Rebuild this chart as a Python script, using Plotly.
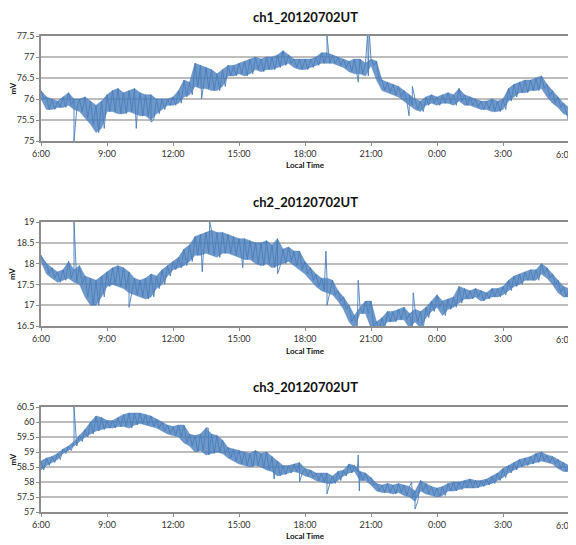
import plotly.graph_objects as go

# time slots: every 15 min from 6:00 to 6:00 next day (hours on a running clock)
start_hour = 6.0
step_hours = 0.25
tick_vals = [6, 9, 12, 15, 18, 21, 24, 27, 30]
tick_labels = ["6:00", "9:00", "12:00", "15:00", "18:00", "21:00", "0:00", "3:00", "6:00"]

titles = ["ch1_20120702UT", "ch2_20120702UT", "ch3_20120702UT"]

# upper / lower envelope of the noise band in each 15-minute slot (mV)
ch1_hi = [76.2, 76.05, 76.0, 75.95, 76.05, 76.15, 76.0, 76.0, 76.05, 75.95, 75.85, 75.95,
          76.1, 76.2, 76.25, 76.15, 76.2, 76.25, 76.15, 76.1, 76.1, 76.0, 76.0, 76.0,
          76.05, 76.2, 76.45, 76.4, 76.85, 76.8, 76.75, 76.7, 76.6, 76.7, 76.8, 76.8,
          76.85, 76.9, 76.95, 77.0, 76.95, 77.0, 77.0, 77.05, 77.15, 77.05, 76.95, 76.95,
          76.95, 76.95, 77.0, 77.1, 77.1, 77.05, 77.0, 76.95, 76.9, 76.95, 76.95, 76.85,
          76.95, 76.9, 76.45, 76.4, 76.35, 76.3, 76.2, 76.1, 76.0, 75.95, 76.05, 76.1,
          76.05, 76.1, 76.15, 76.1, 76.25, 76.1, 76.05, 76.0, 75.95, 75.95, 76.0, 75.95,
          76.0, 76.25, 76.35, 76.4, 76.45, 76.45, 76.5, 76.55, 76.35, 76.2, 76.05, 75.9,
          75.8]
ch1_lo = [76.0, 75.75, 75.75, 75.8, 75.8, 75.85, 75.75, 75.7, 75.55, 75.4, 75.2, 75.3,
          75.7, 75.7, 75.65, 75.65, 75.7, 75.65, 75.6, 75.6, 75.5, 75.65, 75.75, 75.85,
          75.85, 75.9, 76.05, 76.1, 76.3, 76.25, 76.25, 76.2, 76.2, 76.3, 76.55, 76.55,
          76.6, 76.55, 76.6, 76.7, 76.65, 76.7, 76.7, 76.75, 76.8, 76.85, 76.75, 76.7,
          76.7, 76.75, 76.8, 76.85, 76.85, 76.85, 76.8, 76.75, 76.65, 76.6, 76.6, 76.55,
          76.8, 76.45, 76.2, 76.15, 76.1, 76.05, 75.95, 75.85, 75.75, 75.7, 75.85, 75.9,
          75.85, 75.9, 75.9, 75.85, 75.95, 75.85, 75.85, 75.8, 75.75, 75.75, 75.7, 75.7,
          75.75, 75.95, 76.05, 76.15, 76.15, 76.2, 76.2, 76.25, 76.05, 75.9, 75.8, 75.65,
          75.6]
ch1_spike_t = [7.5, 10.33, 11.0, 13.3, 19.0, 20.42, 20.85, 20.92, 22.73, 22.88, 29.97]
ch1_spike_v = [75.0, 75.3, 75.45, 76.0, 77.5, 76.4, 77.6, 77.6, 75.6, 76.3, 75.5]

ch2_hi = [18.2, 18.0, 17.9, 17.8, 17.85, 18.05, 17.85, 17.95, 17.7, 17.65, 17.6, 17.7,
          17.8, 17.9, 17.95, 17.9, 17.8, 17.65, 17.6, 17.65, 17.75, 17.7, 17.85, 17.95,
          18.05, 18.15, 18.35, 18.45, 18.65, 18.7, 18.75, 18.8, 18.75, 18.75, 18.7, 18.65,
          18.6, 18.6, 18.55, 18.5, 18.5, 18.55, 18.45, 18.6, 18.35, 18.4, 18.3, 18.3,
          18.05, 17.9, 17.75, 17.65, 17.65, 17.6, 17.35, 17.2, 17.0, 16.75, 16.95, 17.1,
          17.1, 16.6, 16.7, 16.85, 16.85, 16.9, 16.95, 16.8, 16.9, 16.85, 16.95, 17.1,
          17.25, 17.1, 17.15, 17.2, 17.45, 17.4, 17.35, 17.4, 17.35, 17.3, 17.4, 17.4,
          17.45, 17.6, 17.7, 17.75, 17.8, 17.85, 17.85, 18.0, 17.9, 17.75, 17.6, 17.45,
          17.4]
ch2_lo = [18.05, 17.75, 17.65, 17.55, 17.6, 17.65, 17.55, 17.5, 17.2, 17.0, 17.0, 17.2,
          17.45, 17.5, 17.45, 17.4, 17.3, 17.25, 17.2, 17.15, 17.2, 17.4, 17.5, 17.7,
          17.85, 17.9, 17.95, 18.05, 18.2, 18.2, 18.25, 18.2, 18.15, 18.25, 18.25, 18.2,
          18.15, 18.1, 18.1, 18.0, 17.95, 18.0, 17.9, 17.95, 18.0, 18.05, 17.95, 17.85,
          17.75, 17.6, 17.45, 17.35, 17.3, 17.25, 17.1, 16.9, 16.6, 16.45, 16.8, 16.8,
          16.45, 16.4, 16.45, 16.6, 16.6, 16.65, 16.65, 16.45, 16.6, 16.45, 16.7, 16.85,
          16.95, 16.75, 16.9, 16.95, 17.05, 17.15, 17.15, 17.2, 17.1, 17.15, 17.2, 17.2,
          17.25, 17.35, 17.45, 17.5, 17.6, 17.6, 17.6, 17.75, 17.65, 17.5, 17.3, 17.2,
          17.2]
ch2_spike_t = [7.5, 10.0, 13.33, 13.67, 15.17, 16.75, 18.95, 19.0, 20.42, 22.92]
ch2_spike_v = [19.0, 16.95, 17.8, 19.0, 17.9, 17.75, 18.3, 17.0, 17.6, 17.3]

ch3_hi = [58.7, 58.8, 58.85, 58.95, 59.1, 59.2, 59.35, 59.55, 59.75, 60.0, 60.2, 60.15,
          60.05, 60.05, 60.15, 60.25, 60.3, 60.3, 60.3, 60.25, 60.2, 60.1, 60.0, 59.9,
          59.85, 59.9, 59.9, 59.6, 59.55, 59.6, 59.8, 59.6, 59.55, 59.4, 59.15, 59.1,
          59.05, 59.0, 58.95, 59.05, 58.95, 59.0, 58.85, 58.7, 58.55, 58.55, 58.6, 58.65,
          58.45, 58.4, 58.3, 58.3, 58.3, 58.2, 58.35, 58.4, 58.6, 58.55, 58.35, 58.3,
          58.15, 57.95, 57.9, 57.95, 57.9, 57.95, 57.9, 57.85, 57.7, 58.05, 57.95, 57.85,
          57.8, 57.85, 57.95, 58.0, 58.0, 58.05, 58.1, 58.05, 58.05, 58.1, 58.2, 58.3,
          58.45, 58.55, 58.65, 58.75, 58.8, 58.85, 58.95, 59.0, 58.9, 58.85, 58.75, 58.65,
          58.55]
ch3_lo = [58.4, 58.55, 58.65, 58.75, 58.95, 59.05, 59.2, 59.35, 59.5, 59.6, 59.7, 59.75,
          59.8, 59.8, 59.85, 59.85, 59.8, 59.9, 59.95, 59.9, 59.85, 59.8, 59.7, 59.6,
          59.55, 59.5, 59.3, 59.2, 59.0, 59.05, 58.9, 58.95, 59.0, 58.95, 58.8, 58.7,
          58.6, 58.55, 58.5, 58.55, 58.5, 58.4, 58.35, 58.2, 58.25, 58.3, 58.35, 58.3,
          58.2, 58.15, 58.05, 58.0, 57.95, 57.95, 58.05, 58.2, 58.3, 58.35, 58.05, 58.05,
          57.9, 57.7, 57.65, 57.65, 57.6, 57.65, 57.55, 57.5, 57.35, 57.7, 57.6, 57.55,
          57.5, 57.55, 57.7, 57.7, 57.75, 57.8, 57.8, 57.8, 57.85, 57.9, 57.95, 58.05,
          58.15, 58.3, 58.4, 58.5, 58.55, 58.6, 58.65, 58.7, 58.65, 58.6, 58.45, 58.35,
          58.35]
ch3_spike_t = [7.5, 13.6, 16.6, 17.75, 19.0, 20.42, 20.47, 22.85, 23.0]
ch3_spike_v = [60.5, 59.8, 58.1, 58.0, 57.6, 58.9, 57.7, 58.0, 57.1]

y_ranges = [[75, 77.5], [16.5, 19], [57, 60.5]]
series = [(ch1_hi, ch1_lo, ch1_spike_t, ch1_spike_v),
          (ch2_hi, ch2_lo, ch2_spike_t, ch2_spike_v),
          (ch3_hi, ch3_lo, ch3_spike_t, ch3_spike_v)]

# the page body has an 8px margin; pixel positions below are figure pixels
W, H = 568, 537
plot_left, plot_right = 33, 561
panel_px = [(28, 133), (214, 318), (399, 504)]   # top, bottom pixel of each plot area
title_px = [9, 194, 379]
xlabel_px = [157, 343, 528]

fig = go.Figure()
line_color = "#4a7ebb"
font_family = "Lato, Open Sans, sans-serif"
tick_font = dict(size=9, color="#333", family=font_family)

# the last tick label sits at the right edge of the page: draw it right-aligned
axis_ticktext = tick_labels[:-1] + [""]

for k, (hi, lo, st, sv) in enumerate(series):
    sfx = "" if k == 0 else str(k + 1)
    times = [start_hour + i * step_hours for i in range(len(hi))]
    # noise band
    band_x = times + times[::-1]
    band_y = hi + lo[::-1]
    fig.add_trace(go.Scatter(x=band_x, y=band_y, mode="lines", fill="toself",
                             fillcolor="rgba(74,126,187,0.8)",
                             line=dict(color="rgba(74,126,187,0.8)", width=0.5),
                             xaxis="x" + sfx, yaxis="y" + sfx,
                             showlegend=False, hoverinfo="skip"))
    # jagged trace through the band plus the spikes
    pts = []
    for i, t in enumerate(times):
        pts.append((t, hi[i]))
        if i < len(times) - 1:
            pts.append((t + step_hours / 2, lo[i]))
        else:
            pts.append((t, lo[i]))
    pts += list(zip(st, sv))
    pts.sort(key=lambda p: p[0])
    fig.add_trace(go.Scatter(x=[p[0] for p in pts], y=[p[1] for p in pts], mode="lines",
                             line=dict(color=line_color, width=0.9),
                             xaxis="x" + sfx, yaxis="y" + sfx,
                             showlegend=False, hoverinfo="skip"))
    top, bot = panel_px[k]
    dom = [1 - bot / H, 1 - top / H]
    lo_r, hi_r = y_ranges[k]
    yvals = [lo_r + 0.5 * j for j in range(int(round((hi_r - lo_r) / 0.5)) + 1)]
    fig.update_layout(**{
        "xaxis" + sfx: dict(range=[6, 30], tickvals=tick_vals, ticktext=axis_ticktext,
                            anchor="y" + sfx, showgrid=False, zeroline=False,
                            automargin=False, ticklabeloverflow="allow",
                            showline=True, linecolor="#8c8c8c", linewidth=1.5, mirror=True,
                            ticks="outside", ticklen=3, tickcolor="#8c8c8c",
                            tickfont=tick_font),
        "yaxis" + sfx: dict(range=y_ranges[k], domain=dom, tickvals=yvals,
                            anchor="x" + sfx, showgrid=True, gridcolor="#bdbdbd",
                            gridwidth=1.5, zeroline=False, automargin=False,
                            ticklabeloverflow="allow",
                            showline=True, linecolor="#8c8c8c", linewidth=1.5, mirror=True,
                            ticks="outside", ticklen=3, tickcolor="#8c8c8c",
                            tickfont=tick_font),
    })
    fig.add_annotation(text=tick_labels[-1], xref="x" + sfx, yref="y" + sfx + " domain",
                       x=tick_vals[-1], y=0, xanchor="right", yanchor="middle",
                       xshift=6, yshift=-13, showarrow=False, font=tick_font,
                       borderpad=0)
    fig.add_annotation(text="<b>%s</b>" % titles[k], xref="paper", yref="paper",
                       x=0.5, y=1 - title_px[k] / H, showarrow=False,
                       font=dict(size=13, color="#111", family=font_family),
                       xanchor="center", yanchor="middle")
    fig.add_annotation(text="<b>Local Time</b>", xref="paper", yref="paper",
                       x=0.5, y=1 - xlabel_px[k] / H, showarrow=False,
                       font=dict(size=8, color="#111", family=font_family),
                       xanchor="center", yanchor="middle", borderpad=0)
    fig.add_annotation(text="<b>mV</b>", xref="paper", yref="paper",
                       x=(4 - plot_left) / (plot_right - plot_left),
                       y=1 - (top + bot) / 2 / H, showarrow=False, textangle=-90,
                       font=dict(size=8, color="#111", family=font_family),
                       xanchor="center", yanchor="middle")

fig.update_layout(width=W, height=H, margin=dict(l=plot_left, r=W - plot_right, t=0, b=0),
                  paper_bgcolor="white", plot_bgcolor="white",
                  font=dict(family=font_family))

fig.write_html("out.html")
